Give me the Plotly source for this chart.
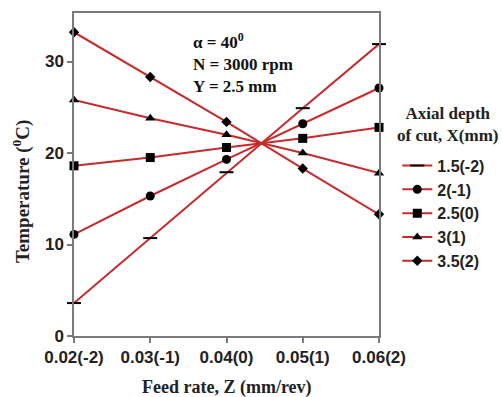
import plotly.graph_objects as go

# Feed rate levels (mm/rev) and their coded labels
feed_rate = [0.02, 0.03, 0.04, 0.05, 0.06]
feed_labels = ["0.02(-2)", "0.03(-1)", "0.04(0)", "0.05(1)", "0.06(2)"]

# Temperature (deg C) for each axial depth of cut X (mm)
temp_x15 = [3.6, 10.7, 17.9, 24.9, 31.9]
temp_x20 = [11.1, 15.3, 19.3, 23.2, 27.1]
temp_x25 = [18.6, 19.5, 20.6, 21.6, 22.8]
temp_x30 = [25.8, 23.8, 22.0, 20.0, 17.8]
temp_x35 = [33.2, 28.3, 23.4, 18.3, 13.3]

series_names = ["1.5(-2)", "2(-1)", "2.5(0)", "3(1)", "3.5(2)"]
y_ticks = [0, 10, 20, 30]

LINE_RED = "#c62a2d"
SERIF = "Liberation Serif"
SANS = "Liberation Sans"

series = [
    (series_names[0], temp_x15, "line-ew", 10),
    (series_names[1], temp_x20, "circle", 9),
    (series_names[2], temp_x25, "square", 9),
    (series_names[3], temp_x30, "triangle-up", 9),
    (series_names[4], temp_x35, "diamond", 8),
]

fig = go.Figure()
for name, vals, sym, size in series:
    fig.add_trace(go.Scatter(
        x=feed_rate, y=vals, name=name, mode="lines+markers",
        line=dict(color=LINE_RED, width=2),
        marker=dict(symbol=sym, size=size, color="black",
                    line=dict(color="black", width=2 if sym == "line-ew" else 0)),
        cliponaxis=False,
    ))

axis_common = dict(
    showline=True, linecolor="#7a7a7a", linewidth=1.5, mirror=True,
    ticks="outside", ticklen=5, tickwidth=1.5, tickcolor="#7a7a7a",
    showgrid=False, zeroline=False,
    tickfont=dict(family=SANS, size=17, color="#222", weight="bold"),
)

fig.update_xaxes(range=[0.02, 0.06], tickvals=feed_rate, ticktext=feed_labels,
                 **axis_common)
fig.update_yaxes(range=[0, 35.3], tickvals=y_ticks, **axis_common)

fig.add_annotation(
    text="Temperature (<sup>0</sup>C)", textangle=-90,
    xref="paper", yref="paper", x=-0.17, y=0.446, xanchor="center", yanchor="middle",
    showarrow=False,
    font=dict(family=SERIF, size=19, color="#222", weight="bold"),
)
fig.add_annotation(
    text="Feed rate, Z (mm/rev)",
    xref="paper", yref="paper", x=0.5, y=-0.122, yanchor="top", showarrow=False,
    font=dict(family=SERIF, size=18, color="#222", weight="bold"),
)
fig.add_annotation(
    text="α = 40<sup>0</sup><br>N = 3000 rpm<br>Y = 2.5 mm",
    xref="paper", yref="paper", x=0.385, y=0.955, xanchor="left", yanchor="top",
    align="left", showarrow=False,
    font=dict(family=SERIF, size=17, color="#111", weight="bold"),
)
# legend heading, placed above the legend entries
fig.add_annotation(
    text="Axial depth<br>of cut, X(mm)",
    xref="paper", yref="paper", x=1.225, y=(336 - 102) / 323,
    xanchor="center", yanchor="top", align="center", showarrow=False,
    font=dict(family=SERIF, size=17, color="#222", weight="bold"),
)

fig.update_layout(
    width=502, height=397,
    margin=dict(l=74, r=123, t=13, b=61, autoexpand=False),
    paper_bgcolor="white", plot_bgcolor="white",
    showlegend=True,
    legend=dict(
        x=1.06, y=0.58, xanchor="left", yanchor="top",
        bgcolor="rgba(0,0,0,0)",
        font=dict(family=SANS, size=16, color="#222", weight="bold"),
        itemwidth=30,
    ),
)

fig.write_html("out.html")
